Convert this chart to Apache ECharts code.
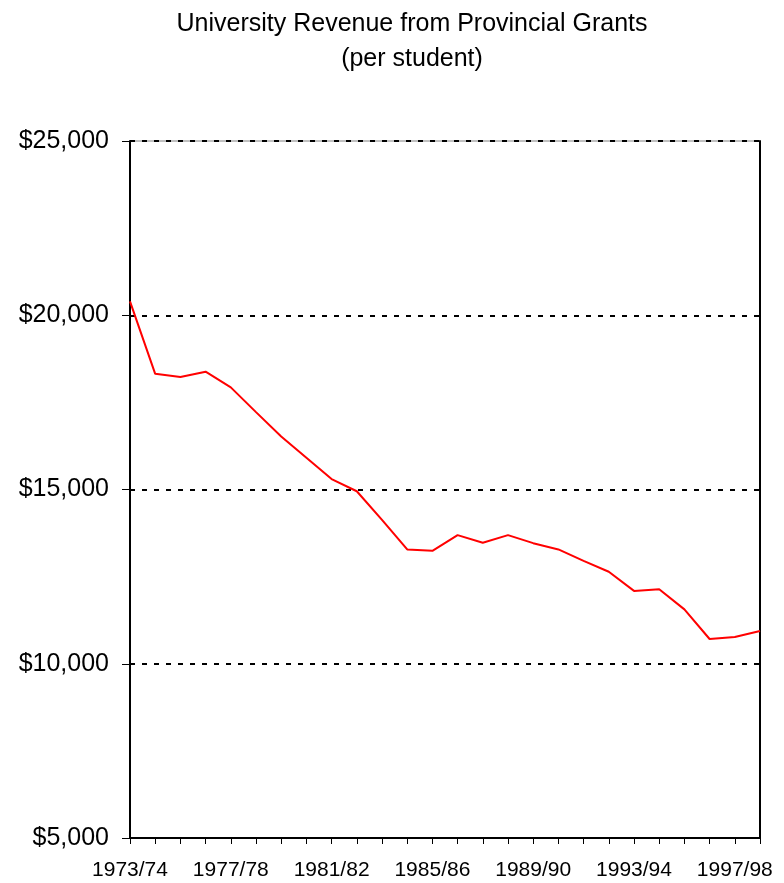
<!DOCTYPE html>
<html>
<head>
<meta charset="utf-8">
<script src="https://cdn.jsdelivr.net/npm/echarts@6/dist/echarts.min.js"></script>
<style>
  html, body { margin: 0; padding: 0; background: #fff; }
  #chart { width: 784px; height: 883px; }
</style>
</head>
<body>
<div id="chart"></div>
<script>
const years = [
  '1973/74', '1974/75', '1975/76', '1976/77', '1977/78', '1978/79', '1979/80',
  '1980/81', '1981/82', '1982/83', '1983/84', '1984/85', '1985/86', '1986/87',
  '1987/88', '1988/89', '1989/90', '1990/91', '1991/92', '1992/93', '1993/94',
  '1994/95', '1995/96', '1996/97', '1997/98', '1998/99'
];

// grant revenue per student, dollars
const grantPerStudent = [
  20400, 18320, 18230, 18380, 17930, 17220, 16520,
  15910, 15300, 14950, 14130, 13280, 13240, 13690,
  13470, 13690, 13460, 13280, 12950, 12640, 12090,
  12140, 11560, 10710, 10770, 10940
];

const yTicks = [5000, 10000, 15000, 20000, 25000];

const chart = echarts.init(document.getElementById('chart'));
const font = 'Liberation Sans, Arial, sans-serif';

function money(v) {
  return '$' + v.toLocaleString('en-US');
}

var option = {
  backgroundColor: '#ffffff',
  animation: false,
  title: {
    text: 'University Revenue from Provincial Grants\n(per student)',
    left: 407,
    top: 2,
    textAlign: 'center',
    textStyle: {
      fontFamily: font,
      fontSize: 25,
      fontWeight: 'normal',
      color: '#000',
      lineHeight: 35
    }
  },
  grid: {
    left: 130,
    right: 24,
    top: 141,
    bottom: 45,
    show: true,
    borderColor: '#808080',
    borderWidth: 1
  },
  xAxis: {
    type: 'category',
    data: years,
    boundaryGap: false,
    axisLine: { lineStyle: { color: '#000', width: 2 } },
    axisTick: { interval: 0, length: 6, lineStyle: { color: '#000', width: 1 } },
    axisLabel: {
      interval: 3,
      margin: 22,
      fontFamily: font,
      fontSize: 21,
      color: '#000'
    },
    splitLine: { show: false }
  },
  yAxis: [{
    type: 'value',
    min: yTicks[0],
    max: yTicks[yTicks.length - 1],
    interval: 5000,
    axisLine: { show: true, lineStyle: { color: '#000', width: 2 } },
    axisTick: { show: true, length: 8, lineStyle: { color: '#000', width: 1 } },
    axisLabel: {
      margin: 21,
      fontFamily: font,
      fontSize: 25,
      color: '#000',
      formatter: money
    },
    splitLine: {
      show: true,
      lineStyle: { color: '#000', width: 2, type: [5, 7] }
    }
  }, {
    type: 'value',
    position: 'right',
    min: yTicks[0],
    max: yTicks[yTicks.length - 1],
    interval: 5000,
    axisLine: { show: true, lineStyle: { color: '#000', width: 2 } },
    axisTick: { show: false },
    axisLabel: { show: false },
    splitLine: { show: false }
  }],
  series: [{
    type: 'line',
    data: grantPerStudent,
    yAxisIndex: 0,
    showSymbol: false,
    symbol: 'none',
    lineStyle: { color: '#ff0000', width: 2 },
    itemStyle: { color: '#ff0000' }
  }]
};

chart.setOption(option);
</script>
</body>
</html>
